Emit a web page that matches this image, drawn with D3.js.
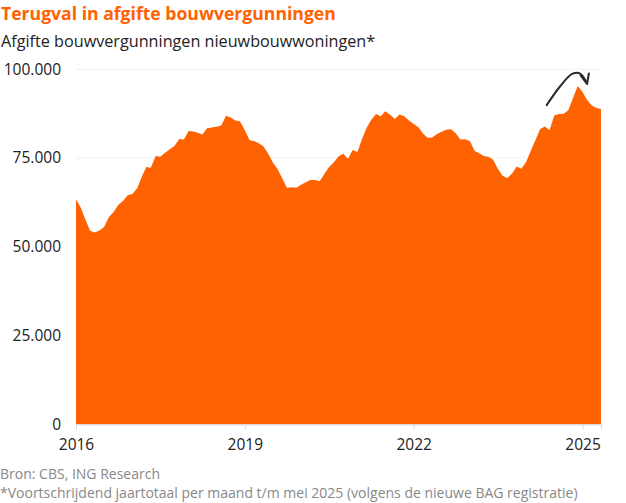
<!DOCTYPE html>
<html>
<head>
<meta charset="utf-8">
<script src="https://cdn.jsdelivr.net/npm/d3@7"></script>
<style>
  body { margin: 0; background: #fff; }
  text { font-family: "Open Sans", "Noto Sans", sans-serif; }
</style>
</head>
<body>
<div class="container"></div>
<script>
const width = 626;
const height = 503;

// voortschrijdend jaartotaal, jan 2016 t/m mei 2025
const startMonth = new Date(2016, 0, 1);
const values = [
  63400, 61000, 57800, 54500, 54000, 54600, 55600, 58300, 59800, 61800, 62900, 64500,
  64900, 66500, 69500, 72500, 72300, 75600, 75400, 76500, 77500, 78400, 80400, 80200,
  82600, 82500, 82100, 81600, 83400, 83600, 83800, 84200, 86900, 86400, 85600, 85300,
  82800, 80000, 79800, 79200, 78300, 76300, 73800, 71900, 69300, 66600, 66800, 66600,
  67500, 68200, 68800, 68800, 68500, 70600, 72500, 73800, 75500, 76200, 74800, 77300,
  76700, 80500, 83500, 85800, 87400, 86800, 88200, 87200, 86000, 87300, 86800, 85600,
  84600, 83700, 82000, 80700, 80800, 81800, 82400, 83000, 83100, 82000, 80200, 80300,
  79800, 77000, 76400, 75600, 75400, 74500, 72000, 70000, 69400, 70600, 72600, 72000,
  73900, 77100, 80000, 83200, 83900, 82800, 87000, 87400, 87500, 88500, 92000, 95300,
  93600, 91300, 89900, 89100, 88800
];
const xTicks = [2016, 2019, 2022, 2025];
const yTicks = [0, 25000, 50000, 75000, 100000];

// pijl: [maand-index, waarde]
const arrowPoints = [[100.4, 89900], [103.3, 95300], [105.8, 98700], [107.5, 98800], [108.95, 96000]];

const data = values.map((v, i) => ({ date: d3.timeMonth.offset(startMonth, i), value: v }));

const nl = d3.formatLocale({ decimal: ',', thousands: '.', grouping: [3], currency: ['€', ''] });
const fmt = nl.format(',');

const x = d3.scaleTime()
  .domain(d3.extent(data, d => d.date))
  .range([76, 601]);

const y = d3.scaleLinear()
  .domain([0, 100000])
  .range([424.3, 69.3]);

const svg = d3.select('.container')
  .append('svg')
  .attr('width', width)
  .attr('height', height);

svg.append('text')
  .attr('x', 1)
  .attr('y', 20)
  .attr('fill', '#ff6200')
  .attr('font-size', 17.6)
  .attr('font-weight', 'bold')
  .text('Terugval in afgifte bouwvergunningen');

svg.append('text')
  .attr('x', 1)
  .attr('y', 47)
  .attr('fill', '#222')
  .attr('font-size', 16.2)
  .text('Afgifte bouwvergunningen nieuwbouwwoningen*');

// rasterlijnen
svg.append('g')
  .selectAll('line')
  .data(yTicks.slice(1))
  .join('line')
  .attr('x1', 76)
  .attr('x2', 601)
  .attr('y1', d => y(d))
  .attr('y2', d => y(d))
  .attr('stroke', '#efefef')
  .attr('stroke-width', 1);

svg.append('g')
  .selectAll('text')
  .data(yTicks)
  .join('text')
  .attr('x', 61)
  .attr('y', d => y(d))
  .attr('dy', '0.35em')
  .attr('text-anchor', 'end')
  .attr('fill', '#222')
  .attr('font-size', 15.5)
  .text(d => fmt(d));

const area = d3.area()
  .x(d => x(d.date))
  .y0(y(0))
  .y1(d => y(d.value));

svg.append('path')
  .datum(data)
  .attr('d', area)
  .attr('fill', '#ff6200');

const xAxis = svg.append('g')
  .attr('transform', `translate(0,${y(0)})`)
  .call(d3.axisBottom(x)
    .tickValues(xTicks.map(t => new Date(t, 0, 1)))
    .tickFormat(d3.timeFormat('%Y'))
    .tickSize(5)
    .tickPadding(10));

xAxis.select('.domain').attr('stroke', '#d8d8d8');
xAxis.selectAll('.tick line').attr('stroke', '#d8d8d8');
xAxis.selectAll('.tick text')
  .attr('fill', '#222')
  .attr('font-size', 15.5)
  .style('font-family', '"Open Sans", "Noto Sans", sans-serif');

// annotatiepijl
const monthW = x(d3.timeMonth.offset(startMonth, 1)) - x(startMonth);
const arrowLine = d3.line()
  .x(d => x(d3.timeMonth.offset(startMonth, Math.floor(d[0]))) + (d[0] % 1) * monthW)
  .y(d => y(d[1]))
  .curve(d3.curveCatmullRom);

svg.append('path')
  .datum(arrowPoints)
  .attr('d', arrowLine)
  .attr('fill', 'none')
  .attr('stroke', '#2b2b2b')
  .attr('stroke-width', 2)
  .attr('stroke-linecap', 'round');

const tip = arrowPoints[arrowPoints.length - 1];
const tipX = arrowLine.x()(tip);
const tipY = y(tip[1]);
svg.append('path')
  .attr('d', `M${tipX - 6.5},${tipY - 8} L${tipX},${tipY + 0.5} L${tipX + 1.8},${tipY - 10}`)
  .attr('fill', 'none')
  .attr('stroke', '#2b2b2b')
  .attr('stroke-width', 2)
  .attr('stroke-linecap', 'round')
  .attr('stroke-linejoin', 'round');

svg.append('text')
  .attr('x', 0)
  .attr('y', 479)
  .attr('fill', '#888')
  .attr('font-size', 14)
  .text('Bron: CBS, ING Research');

svg.append('text')
  .attr('x', 0)
  .attr('y', 498)
  .attr('fill', '#888')
  .attr('font-size', 14)
  .text('*Voortschrijdend jaartotaal per maand t/m mei 2025 (volgens de nieuwe BAG registratie)');
</script>
</body>
</html>
